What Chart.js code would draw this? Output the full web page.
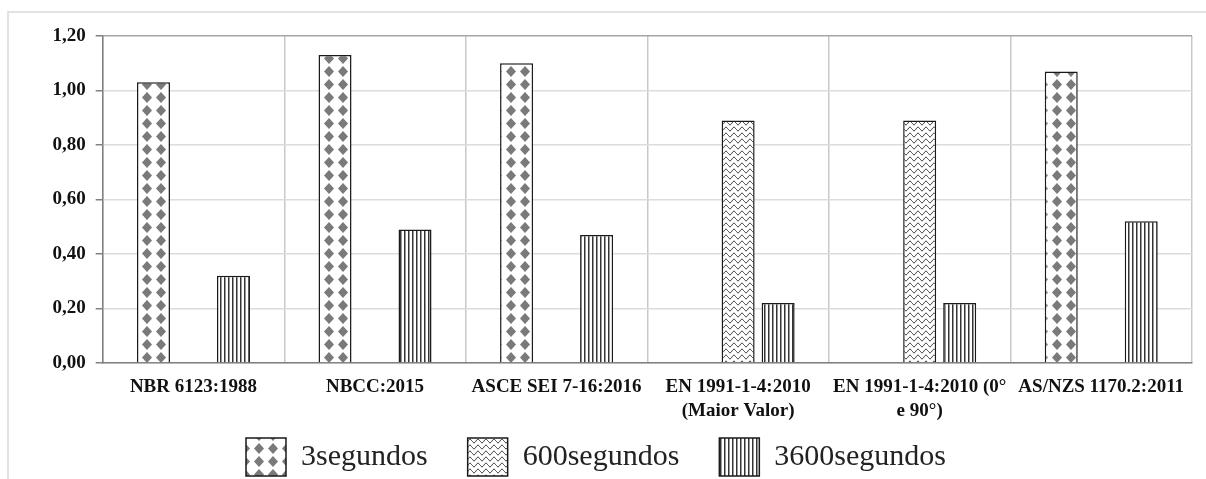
<!DOCTYPE html>
<html>
<head>
<meta charset="utf-8">
<script src="https://cdn.jsdelivr.net/npm/chart.js@4"></script>
<style>
  html, body { margin: 0; padding: 0; background: #fff; }
  #wrap { width: 1206px; height: 479px; }
</style>
</head>
<body>
<div id="wrap"><canvas id="windChart"></canvas></div>
<script>
// values
const categories = [
  "NBR 6123:1988",
  "NBCC:2015",
  "ASCE SEI 7-16:2016",
  ["EN 1991-1-4:2010", "(Maior Valor)"],
  ["EN 1991-1-4:2010 (0°", "e 90°)"],
  "AS/NZS 1170.2:2011"
];
const seriesNames = ["3segundos", "600segundos", "3600segundos"];
const values3s = [1.03, 1.13, 1.10, null, null, 1.07];
const values600s = [null, null, null, 0.89, 0.89, null];
const values3600s = [0.32, 0.49, 0.47, 0.22, 0.22, 0.52];
const yTicks = [0, 0.2, 0.4, 0.6, 0.8, 1.0, 1.2];

/**
 * Fill patterns (diamonds, waves, stripes)
 */
function makePattern(w, h, draw) {
  const tile = document.createElement("canvas");
  tile.width = w;
  tile.height = h;
  const g = tile.getContext("2d");
  g.fillStyle = "#fff";
  g.fillRect(0, 0, w, h);
  draw(g, w, h);
  return g.createPattern(tile, "repeat");
}

const diamondFill = makePattern(14, 13, (g) => {
  g.fillStyle = "#7a7a7a";
  g.beginPath();
  g.moveTo(7, 0.9); g.lineTo(12, 6.5); g.lineTo(7, 12.1); g.lineTo(2, 6.5);
  g.closePath();
  g.fill();
});

const waveFill = makePattern(8, 6, (g, w) => {
  g.strokeStyle = "#222";
  g.lineWidth = 1;
  g.beginPath();
  for (let x = 0; x <= w; x += 0.5) {
    const y = 3 + 1.8 * Math.sin(2 * Math.PI * x / w);
    if (x === 0) g.moveTo(x, y); else g.lineTo(x, y);
  }
  g.stroke();
});

const stripeFill = makePattern(4, 4, (g) => {
  g.fillStyle = "#333";
  g.fillRect(0, 0, 1, 4);
  g.fillStyle = "#999";
  g.fillRect(1, 0, 1, 4);
});

// light outer frame around the whole figure
const framePlugin = {
  id: "outerFrame",
  beforeDraw(chart) {
    const ctx = chart.ctx;
    ctx.save();
    ctx.strokeStyle = "#d9d9d9";
    ctx.lineWidth = 1.5;
    ctx.beginPath();
    ctx.moveTo(8, chart.height);
    ctx.lineTo(8, 12);
    ctx.lineTo(chart.width, 12);
    ctx.stroke();
    ctx.restore();
  }
};

// legend padding is also the gap between items; pull the row back up under the labels
const legendShift = {
  id: "legendShift",
  afterLayout(chart) {
    const lg = chart.legend;
    const pad = lg.options.labels.padding;
    lg.top = chart.chartArea.bottom + 75 - pad;
    lg.bottom = chart.height;
    lg.height = lg.bottom - lg.top;
  }
};

const serif = "'Liberation Serif', 'Times New Roman', serif";
const barStyle = { borderColor: "#1a1a1a", borderWidth: 1.5, categoryPercentage: 0.661, barPercentage: 0.825 };

new Chart(document.getElementById("windChart").getContext("2d"), {
  type: "bar",
  data: {
    labels: categories,
    datasets: [
      { label: seriesNames[0], data: values3s, backgroundColor: diamondFill, ...barStyle },
      { label: seriesNames[1], data: values600s, backgroundColor: waveFill, ...barStyle },
      { label: seriesNames[2], data: values3600s, backgroundColor: stripeFill, ...barStyle }
    ]
  },
  options: {
    responsive: true,
    maintainAspectRatio: false,
    animation: false,
    layout: { padding: { left: 0, right: 14, top: 36, bottom: 0 } },
    plugins: {
      tooltip: { enabled: false },
      legend: {
        position: "bottom",
        maxHeight: 53,
        labels: {
          boxWidth: 40,
          boxHeight: 38,
          padding: 40,
          color: "#222",
          font: { family: serif, size: 30 }
        }
      }
    },
    scales: {
      x: {
        afterFit: (scale) => { scale.height = 63; },
        grid: {
          drawTicks: false,
          color: (ctx) => ctx.index === categories.length ? "#a6a6a6" : "#c8c8c8",
          lineWidth: 1.5
        },
        border: { color: "#808080", width: 1.5 },
        ticks: {
          maxRotation: 0,
          minRotation: 0,
          autoSkip: false,
          padding: 12,
          color: "#111",
          font: { family: serif, size: 19, weight: "bold", lineHeight: 1.25 }
        }
      },
      y: {
        min: 0,
        max: 1.2,
        afterFit: (scale) => { scale.width = 102.7; },
        afterBuildTicks: (scale) => { scale.ticks = yTicks.map(v => ({ value: v })); },
        grid: {
          tickLength: 7,
          color: (ctx) => ctx.tick && ctx.tick.value === 1.2 ? "#a6a6a6" : "#dcdcdc",
          tickColor: "#808080",
          lineWidth: 1.5
        },
        border: { color: "#808080", width: 1.5 },
        ticks: {
          padding: 10,
          color: "#111",
          font: { family: serif, size: 19, weight: "bold" },
          callback: (v) => Number(v).toFixed(2).replace(".", ",")
        }
      }
    }
  },
  plugins: [framePlugin, legendShift]
});
</script>
</body>
</html>
